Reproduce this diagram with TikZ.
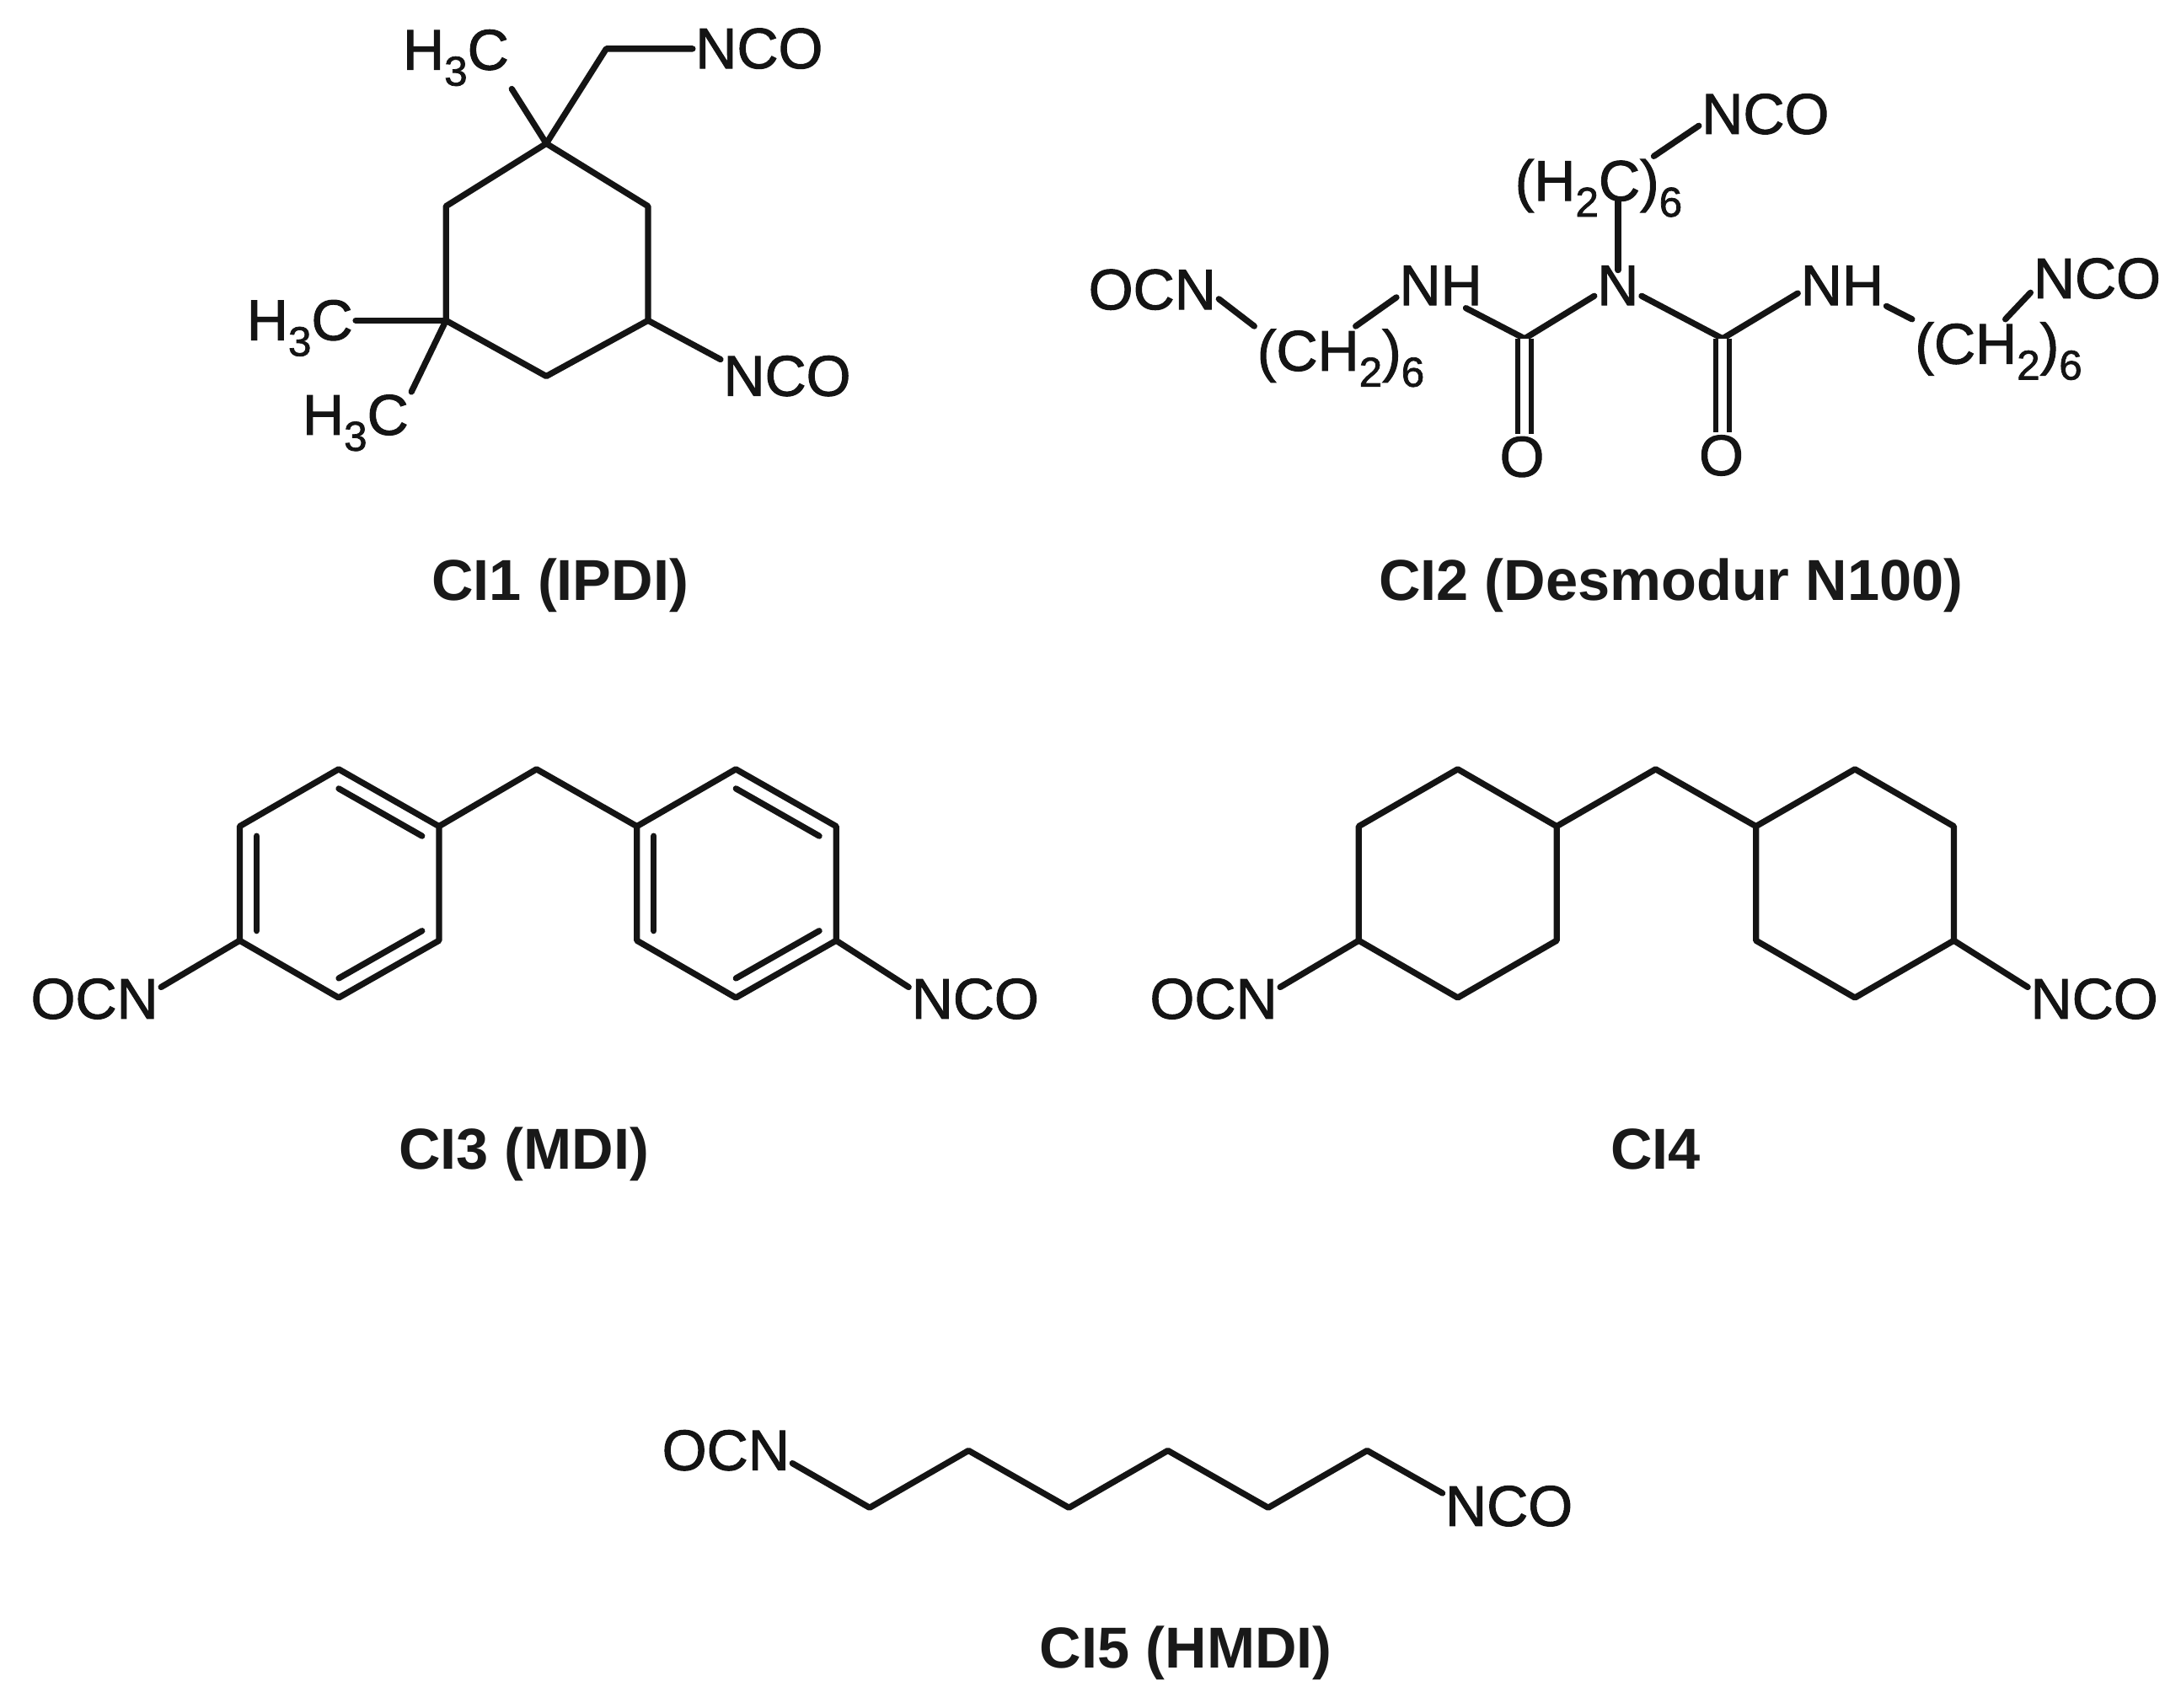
\documentclass[tikz,border=0pt]{standalone}
\usepackage{fontspec}
\setmainfont{Liberation Sans}
\newfontfamily\atomfont[FakeBold=1.5]{Liberation Sans}
\usetikzlibrary{calc}
\newcommand{\lowsub}[1]{\raisebox{-6.5pt}{\fontsize{17}{17}\selectfont #1}}
\tikzset{
  atom/.style={inner sep=1pt, anchor=base west, xshift=-1.7pt, font=\atomfont\fontsize{23.4}{24}\selectfont, text=black!92},
  caption/.style={inner sep=0pt, anchor=base, font=\fontsize{23.6}{26}\selectfont\bfseries, text=black!90},
  bond/.style={line width=2.5pt, line cap=round, line join=round, black!92},
  dblbond/.style={double=white, double distance=3.4pt, line width=2.1pt, black!92}
}
\begin{document}
\begin{tikzpicture}[x=0.02cm, y=-0.02cm]
    \useasboundingbox (0,0) rectangle (1565,1225.7);

    % CI1 ring
    \coordinate (a1) at (392,103);
    \coordinate (a2) at (465,148);
    \coordinate (a3) at (465,230);
    \coordinate (a4) at (392,270);
    \coordinate (a5) at (320,230);
    \coordinate (a6) at (320,148);
    \coordinate (a7) at (435,35);
    \node[atom] (a8) at (290,50) {H\lowsub{3}C};
    \node[atom] (a9) at (500,49) {NCO};
    \node[atom] (a10) at (178,244) {H\lowsub{3}C};
    \node[atom] (a11) at (218,312) {H\lowsub{3}C};
    \node[atom] (a12) at (520,284) {NCO};
    \node[caption] (capa) at (402,431) {CI1 (IPDI)};
    \draw[bond] (a1) -- (a2) -- (a3) -- (a4) -- (a5) -- (a6) -- cycle;
    \draw[bond] (a1) -- (a8.south east);
    \draw[bond] (a1) -- (a7) -- (a9.west |- a7);
    \draw[bond] (a5) -- (a10.east |- a5);
    \draw[bond] (a5) -- (a11.north east);
    \draw[bond] (a3) -- (a12.166);

    % CI2 urea core
    \coordinate (b1) at (1094,243);
    \coordinate (b2) at (1236,243);
    \node[atom] (b3) at (1147,219) {N};
    \node[atom] (b4) at (1005,219) {NH};
    \node[atom] (b5) at (1293,219) {NH};
    \node[atom] (b6) at (782,222) {OCN};
    \node[atom] (b7) at (903,266) {(CH\lowsub{2})\lowsub{6}};
    \node[atom] (b8) at (1375,261) {(CH\lowsub{2})\lowsub{6}};
    \node[atom] (b9) at (1460,214) {NCO};
    \node[atom] (b10) at (1088,144) {(H\lowsub{2}C)\lowsub{6}};
    \node[atom] (b11) at (1222,96) {NCO};
    \node[atom] (b12) at (1077,342) {O};
    \node[atom] (b13) at (1220,341) {O};
    \node[caption] (capb) at (1199,431) {CI2 (Desmodur N100)};
    \draw[bond] (b1) -- (b3.204);
    \draw[bond] (b3.-24) -- (b2);
    \draw[bond] (b2) -- (b5.190);
    \draw[bond] (b1) -- (b4.-42);
    \draw[dblbond] (b1) -- (b1 |- b12.north);
    \draw[dblbond] (b2) -- (b2 |- b13.north);
    \draw[bond] (b6.-8) -- (b7.north west);
    \draw[bond] (b7.65) -- (b4.195);
    \draw[bond] (b5.-25) -- (b8.north west);
    \draw[bond] (b8.78) -- (b9.192);
    \draw[bond, shorten <=-3pt] (b3.north) -- (b3.north |- b10.base);
    \draw[bond] (b10.30) -- (b11.190);

    % CI3 left ring
    \coordinate (c1) at (243,552);
    \coordinate (c2) at (315,593);
    \coordinate (c3) at (315,675);
    \coordinate (c4) at (243,716);
    \coordinate (c5) at (172,675);
    \coordinate (c6) at (172,593);
    \coordinate (cx) at (243.5,634);
    % CI3 right ring
    \coordinate (c7) at (457,593);
    \coordinate (c8) at (528,552);
    \coordinate (c9) at (600,593);
    \coordinate (c10) at (600,675);
    \coordinate (c11) at (528,716);
    \coordinate (c12) at (457,675);
    \coordinate (cy) at (528.5,634);
    \coordinate (c13) at (385,552);
    \node[atom] (c14) at (23,731) {OCN};
    \node[atom] (c15) at (655,731) {NCO};
    \node[caption] (capc) at (376,839) {CI3 (MDI)};
    \draw[bond] (c1) -- (c2) -- (c3) -- (c4) -- (c5) -- (c6) -- cycle;
    \draw[bond] (c7) -- (c8) -- (c9) -- (c10) -- (c11) -- (c12) -- cycle;
    \draw[bond] (c2) -- (c13) -- (c7);
    \draw[bond] (c5) -- (c14.10);
    \draw[bond] (c10) -- (c15.170);
    \foreach \p/\q in {c1/c2, c3/c4, c5/c6}
      \draw[bond] ($(\p)!0.17!(cx)$) -- ($(\q)!0.17!(cx)$);
    \foreach \p/\q in {c8/c9, c10/c11, c12/c7}
      \draw[bond] ($(\p)!0.17!(cy)$) -- ($(\q)!0.17!(cy)$);

    % CI4 rings
    \coordinate (d1) at (1046,552);
    \coordinate (d2) at (1117,593);
    \coordinate (d3) at (1117,675);
    \coordinate (d4) at (1046,716);
    \coordinate (d5) at (975,675);
    \coordinate (d6) at (975,593);
    \coordinate (d7) at (1260,593);
    \coordinate (d8) at (1331,552);
    \coordinate (d9) at (1402,593);
    \coordinate (d10) at (1402,675);
    \coordinate (d11) at (1331,716);
    \coordinate (d12) at (1260,675);
    \coordinate (d13) at (1188,552);
    \node[atom] (d14) at (826,731) {OCN};
    \node[atom] (d15) at (1458,731) {NCO};
    \node[caption] (capd) at (1188,839) {CI4};
    \draw[bond] (d1) -- (d2) -- (d3) -- (d4) -- (d5) -- (d6) -- cycle;
    \draw[bond] (d7) -- (d8) -- (d9) -- (d10) -- (d11) -- (d12) -- cycle;
    \draw[bond] (d2) -- (d13) -- (d7);
    \draw[bond] (d5) -- (d14.10);
    \draw[bond] (d10) -- (d15.170);

    % CI5 chain
    \node[atom] (e1) at (476,1055) {OCN};
    \coordinate (e2) at (624,1082);
    \coordinate (e3) at (695,1041);
    \coordinate (e4) at (767,1082);
    \coordinate (e5) at (838,1041);
    \coordinate (e6) at (910,1082);
    \coordinate (e7) at (981,1041);
    \node[atom] (e8) at (1038,1095) {NCO};
    \node[caption] (cape) at (851,1197) {CI5 (HMDI)};
    \draw[bond] (e1.-11) -- (e2) -- (e3) -- (e4) -- (e5) -- (e6) -- (e7) -- (e8.169);

\end{tikzpicture}
\end{document}
